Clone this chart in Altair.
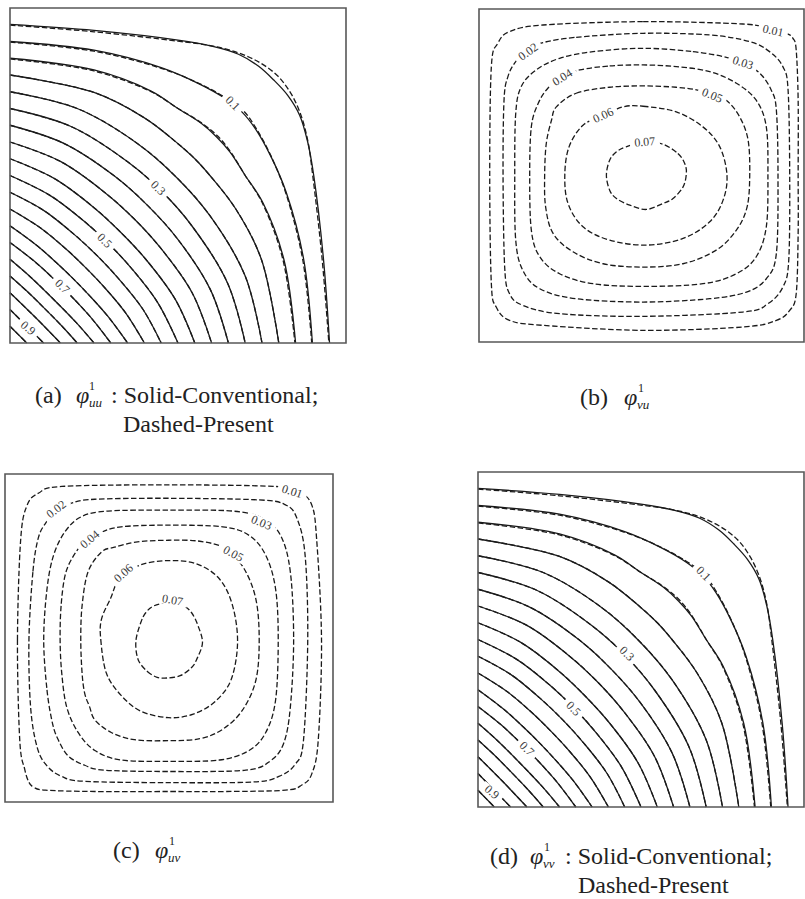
import altair as alt
import pandas as pd

SERIF = "Liberation Serif"
INK = "#1a1a1a"
FRAME = "#585858"
LABEL_INK = "#3a3a3a"

# ---------------------------------------------------------------------------
# Corner-type fields (phi_uu, phi_vv): value 1 at the lower-left corner, 0 on the
# top and right edges.  Each contour is symmetric about the diagonal, so only the
# half from the left edge to the diagonal is listed (normalised 0..1 coordinates).
# ---------------------------------------------------------------------------
corner_levels = [0.05, 0.10, 0.15, 0.20, 0.25, 0.30, 0.35, 0.40, 0.45, 0.50,
                 0.55, 0.60, 0.65, 0.70, 0.75, 0.80, 0.85, 0.90, 0.95]
corner_x = [
    [0, 0.25, 0.5, 0.6, 0.68, 0.74, 0.785],
    [0, 0.25, 0.45, 0.56, 0.64, 0.69],
    [0, 0.25, 0.42, 0.5, 0.57, 0.615],
    [0, 0.25, 0.4, 0.5, 0.55],
    [0, 0.2, 0.38, 0.495],
    [0, 0.18, 0.35, 0.452],
    [0, 0.16, 0.31, 0.41],
    [0, 0.15, 0.28, 0.37],
    [0, 0.13, 0.25, 0.33],
    [0, 0.12, 0.22, 0.295],
    [0, 0.10, 0.19, 0.26],
    [0, 0.09, 0.165, 0.225],
    [0, 0.08, 0.14, 0.19],
    [0, 0.07, 0.12, 0.161],
    [0, 0.06, 0.13],
    [0, 0.05, 0.103],
    [0, 0.076],
    [0, 0.05],
    [0, 0.025],
]
corner_y = [
    [0.951, 0.933, 0.904, 0.886, 0.862, 0.826, 0.785],
    [0.90, 0.874, 0.822, 0.775, 0.730, 0.69],
    [0.85, 0.815, 0.752, 0.70, 0.655, 0.615],
    [0.80, 0.748, 0.672, 0.595, 0.55],
    [0.75, 0.70, 0.595, 0.495],
    [0.70, 0.647, 0.541, 0.452],
    [0.65, 0.596, 0.499, 0.41],
    [0.60, 0.542, 0.451, 0.37],
    [0.55, 0.492, 0.404, 0.33],
    [0.50, 0.440, 0.364, 0.295],
    [0.45, 0.396, 0.325, 0.26],
    [0.40, 0.344, 0.282, 0.225],
    [0.35, 0.291, 0.238, 0.19],
    [0.30, 0.246, 0.201, 0.161],
    [0.25, 0.198, 0.13],
    [0.20, 0.155, 0.103],
    [0.15, 0.076],
    [0.10, 0.05],
    [0.05, 0.025],
]
# present method: the outer contours sit slightly further into the corner
present_overrides = {
    0.05: ([0, 0.25, 0.5, 0.6, 0.68, 0.745, 0.797],
           [0.949, 0.929, 0.901, 0.887, 0.866, 0.836, 0.797]),
    0.10: ([0, 0.25, 0.45, 0.56, 0.64, 0.694],
           [0.898, 0.871, 0.820, 0.776, 0.733, 0.694]),
    0.15: ([0, 0.25, 0.42, 0.5, 0.57, 0.618],
           [0.848, 0.812, 0.750, 0.700, 0.657, 0.618]),
}

uu_label_text = ["0.1", "0.3", "0.5", "0.7", "0.9"]
uu_label_x = [0.663, 0.441, 0.282, 0.156, 0.054]
uu_label_y = [0.716, 0.463, 0.306, 0.169, 0.045]
uu_label_angle = [45, 45, 45, 45, 40]

vv_label_text = ["0.1", "0.3", "0.5", "0.7", "0.9"]
vv_label_x = [0.692, 0.457, 0.293, 0.150, 0.043]
vv_label_y = [0.697, 0.458, 0.294, 0.174, 0.045]
vv_label_angle = [45, 45, 45, 45, 40]

# ---------------------------------------------------------------------------
# Cross fields (phi_vu, phi_uv): closed contours around the centre.
# ---------------------------------------------------------------------------
cross_levels = [0.01, 0.02, 0.03, 0.04, 0.05, 0.06, 0.07]
vu_x = [
    [0.197, 0.505, 0.812, 0.900, 0.946, 0.966, 0.976, 0.982, 0.982, 0.982, 0.976, 0.956,
     0.915, 0.812, 0.505, 0.197, 0.094, 0.053, 0.038, 0.033, 0.038, 0.058, 0.094],
    [0.197, 0.299, 0.505, 0.710, 0.833, 0.894, 0.935, 0.951, 0.956, 0.953, 0.935, 0.889,
     0.812, 0.505, 0.248, 0.135, 0.094, 0.079, 0.074, 0.077, 0.089, 0.113, 0.151],
    [0.505, 0.658, 0.761, 0.812, 0.864, 0.899, 0.915, 0.920, 0.915, 0.884, 0.823, 0.710,
     0.505, 0.299, 0.187, 0.135, 0.113, 0.110, 0.113, 0.130, 0.176, 0.248, 0.351],
    [0.310, 0.402, 0.505, 0.607, 0.710, 0.792, 0.853, 0.884, 0.889, 0.884, 0.853, 0.792,
     0.689, 0.505, 0.351, 0.248, 0.187, 0.161, 0.156, 0.161, 0.182, 0.212, 0.256],
    [0.238, 0.299, 0.402, 0.505, 0.607, 0.669, 0.715, 0.761, 0.802, 0.828, 0.833, 0.825,
     0.792, 0.730, 0.628, 0.505, 0.382, 0.289, 0.228, 0.205, 0.202, 0.207, 0.223],
    [0.443, 0.505, 0.607, 0.689, 0.741, 0.763, 0.751, 0.710, 0.628, 0.515, 0.402, 0.320,
     0.274, 0.264, 0.277, 0.320, 0.379],
    [0.566, 0.612, 0.633, 0.638, 0.628, 0.597, 0.566, 0.515, 0.464, 0.423, 0.402, 0.392,
     0.402, 0.423, 0.453, 0.510],
]
vu_y = [
    [0.952, 0.962, 0.955, 0.940, 0.927, 0.912, 0.877, 0.726, 0.501, 0.326, 0.145, 0.095,
     0.065, 0.045, 0.035, 0.050, 0.065, 0.105, 0.175, 0.501, 0.827, 0.897, 0.932],
    [0.899, 0.915, 0.927, 0.922, 0.902, 0.872, 0.827, 0.757, 0.501, 0.245, 0.165, 0.115,
     0.090, 0.077, 0.085, 0.110, 0.145, 0.225, 0.501, 0.726, 0.797, 0.842, 0.877],
    [0.882, 0.872, 0.855, 0.837, 0.807, 0.757, 0.696, 0.501, 0.266, 0.190, 0.150, 0.130,
     0.120, 0.130, 0.160, 0.215, 0.306, 0.501, 0.686, 0.767, 0.817, 0.852, 0.872],
    [0.817, 0.829, 0.832, 0.827, 0.812, 0.777, 0.726, 0.646, 0.501, 0.346, 0.256, 0.205,
     0.175, 0.167, 0.175, 0.205, 0.256, 0.336, 0.501, 0.646, 0.716, 0.762, 0.795],
    [0.706, 0.747, 0.765, 0.769, 0.765, 0.757, 0.742, 0.726, 0.676, 0.606, 0.501, 0.406,
     0.336, 0.276, 0.235, 0.225, 0.235, 0.271, 0.326, 0.406, 0.501, 0.596, 0.666],
    [0.706, 0.708, 0.691, 0.646, 0.586, 0.501, 0.426, 0.361, 0.311, 0.291, 0.306, 0.346,
     0.416, 0.501, 0.586, 0.651, 0.678],
    [0.594, 0.566, 0.536, 0.506, 0.466, 0.431, 0.416, 0.398, 0.411, 0.431, 0.456, 0.501,
     0.546, 0.571, 0.586, 0.601],
]
uv_x = [
    [0.048, 0.038, 0.045, 0.060, 0.073, 0.088, 0.123, 0.274, 0.499, 0.674, 0.855, 0.905,
     0.935, 0.955, 0.965, 0.950, 0.935, 0.895, 0.825, 0.499, 0.173, 0.103, 0.068],
    [0.101, 0.085, 0.073, 0.078, 0.098, 0.128, 0.173, 0.243, 0.499, 0.755, 0.835, 0.885,
     0.910, 0.923, 0.915, 0.890, 0.855, 0.775, 0.499, 0.274, 0.203, 0.158, 0.123],
    [0.118, 0.128, 0.145, 0.163, 0.193, 0.243, 0.304, 0.499, 0.734, 0.810, 0.850, 0.870,
     0.880, 0.870, 0.840, 0.785, 0.694, 0.499, 0.314, 0.233, 0.183, 0.148, 0.128],
    [0.183, 0.171, 0.168, 0.173, 0.188, 0.223, 0.274, 0.354, 0.499, 0.654, 0.744, 0.795,
     0.825, 0.833, 0.825, 0.795, 0.744, 0.664, 0.499, 0.354, 0.284, 0.238, 0.205],
    [0.294, 0.253, 0.235, 0.231, 0.235, 0.243, 0.258, 0.274, 0.324, 0.394, 0.499, 0.594,
     0.664, 0.724, 0.765, 0.775, 0.765, 0.729, 0.674, 0.594, 0.499, 0.404, 0.334],
    [0.294, 0.292, 0.309, 0.354, 0.414, 0.499, 0.574, 0.639, 0.689, 0.709, 0.694, 0.654,
     0.584, 0.499, 0.414, 0.349, 0.322],
    [0.406, 0.434, 0.464, 0.494, 0.534, 0.569, 0.584, 0.602, 0.589, 0.569, 0.544, 0.499,
     0.454, 0.429, 0.414, 0.399],
]
uv_y = [
    [0.803, 0.495, 0.188, 0.100, 0.060, 0.045, 0.036, 0.032, 0.032, 0.032, 0.036, 0.052,
     0.085, 0.188, 0.495, 0.803, 0.906, 0.947, 0.962, 0.967, 0.962, 0.942, 0.906],
    [0.803, 0.701, 0.495, 0.290, 0.167, 0.110, 0.078, 0.063, 0.059, 0.061, 0.078, 0.115,
     0.188, 0.495, 0.752, 0.865, 0.906, 0.921, 0.926, 0.923, 0.911, 0.887, 0.849],
    [0.495, 0.342, 0.239, 0.188, 0.140, 0.112, 0.097, 0.093, 0.097, 0.126, 0.180, 0.290,
     0.495, 0.701, 0.813, 0.865, 0.887, 0.890, 0.887, 0.870, 0.824, 0.752, 0.649],
    [0.690, 0.598, 0.495, 0.393, 0.290, 0.212, 0.157, 0.128, 0.124, 0.128, 0.157, 0.212,
     0.311, 0.495, 0.649, 0.752, 0.813, 0.839, 0.844, 0.839, 0.818, 0.788, 0.744],
    [0.762, 0.701, 0.598, 0.495, 0.393, 0.331, 0.290, 0.250, 0.212, 0.190, 0.187, 0.193,
     0.222, 0.280, 0.372, 0.495, 0.618, 0.711, 0.772, 0.795, 0.798, 0.793, 0.777],
    [0.557, 0.495, 0.393, 0.325, 0.277, 0.257, 0.268, 0.305, 0.372, 0.485, 0.598, 0.680,
     0.726, 0.736, 0.723, 0.680, 0.621],
    [0.434, 0.398, 0.380, 0.378, 0.385, 0.410, 0.434, 0.485, 0.536, 0.577, 0.598, 0.608,
     0.598, 0.577, 0.547, 0.490],
]

vu_label_text = ["0.01", "0.02", "0.03", "0.04", "0.05", "0.06", "0.07"]
vu_label_x = [0.905, 0.151, 0.812, 0.256, 0.718, 0.382, 0.510]
vu_label_y = [0.935, 0.872, 0.839, 0.795, 0.741, 0.681, 0.601]
vu_label_angle = [12, -35, 18, -32, 22, -25, -5]

uv_label_text = ["0.01", "0.02", "0.03", "0.04", "0.05", "0.06", "0.07"]
uv_label_x = [0.876, 0.156, 0.782, 0.258, 0.696, 0.361, 0.511]
uv_label_y = [0.947, 0.893, 0.852, 0.801, 0.757, 0.698, 0.616]
uv_label_angle = [18, -38, 22, -40, 28, -42, 10]

# ---------------------------------------------------------------------------
# Layout: pixel box of each panel's square frame (x range, y range)
# ---------------------------------------------------------------------------
BOX_A = ([10, 346], [343, 8])
BOX_B = ([479, 804], [342, 9])
BOX_C = ([5, 333], [802, 474])
BOX_D = ([478, 804], [807, 472])


def scales(box):
    return (alt.Scale(domain=[0, 1], range=box[0], nice=False, zero=False),
            alt.Scale(domain=[0, 1], range=box[1], nice=False, zero=False))


def corner_table(levels, xs_list, ys_list):
    rows = []
    for lev, hx, hy in zip(levels, xs_list, ys_list):
        half = list(zip(hx, hy))
        path = half + [(b, a) for a, b in reversed(half[:-1])]
        for k, (px, py) in enumerate(path):
            rows.append({"level": lev, "order": k, "x": px, "y": py})
    return pd.DataFrame(rows)


def closed_table(levels, xs_list, ys_list):
    rows = []
    for lev, cx, cy in zip(levels, xs_list, ys_list):
        for k, (px, py) in enumerate(zip(cx, cy)):
            rows.append({"level": lev, "order": k, "x": px, "y": py})
    return pd.DataFrame(rows)


def label_table(text, xs, ys, angles):
    return pd.DataFrame({"label": text, "x": xs, "y": ys, "angle": angles})


frame_df = pd.DataFrame({"x0": [0], "x1": [1], "y0": [0], "y1": [1]})
one_row = pd.DataFrame({"k": [0]})


def lines(df, box, interp, dash=None, width=1.3):
    xs, ys = scales(box)
    kw = dict(interpolate=interp, color=INK, strokeWidth=width)
    if dash:
        kw["strokeDash"] = dash
    return alt.Chart(df).mark_line(**kw).encode(
        x=alt.X("x:Q", scale=xs, axis=None),
        y=alt.Y("y:Q", scale=ys, axis=None),
        detail="level:N",
        order="order:Q",
    )


def labels(df, box, patch):
    xs, ys = scales(box)
    enc = dict(
        x=alt.X("x:Q", scale=xs, axis=None),
        y=alt.Y("y:Q", scale=ys, axis=None),
        angle=alt.Angle("angle:Q", scale=None),
    )
    gap = alt.Chart(df).mark_point(
        shape="M-1,-0.36L1,-0.36L1,0.36L-1,0.36Z", filled=True, color="white",
        opacity=1, size=patch * patch, strokeWidth=0,
    ).encode(**enc)
    txt = alt.Chart(df).mark_text(
        font=SERIF, fontSize=12, color=LABEL_INK, align="center", baseline="middle",
    ).encode(text="label:N", **enc)
    return [gap, txt]


def frame(box):
    xs, ys = scales(box)
    return alt.Chart(frame_df).mark_rect(
        fillOpacity=0, stroke=FRAME, strokeWidth=1.6,
    ).encode(
        x=alt.X("x0:Q", scale=xs, axis=None), x2="x1:Q",
        y=alt.Y("y0:Q", scale=ys, axis=None), y2="y1:Q",
    )


def caption(text, px, py, size=24, style="normal"):
    return alt.Chart(one_row).mark_text(
        text=text, font=SERIF, fontSize=size, fontStyle=style, color="#222222",
        align="left", baseline="alphabetic",
    ).encode(x=alt.value(px), y=alt.value(py))


def symbol(label, sub, px, py, phi_x, one_dx, sub_dx, colon=None, second=None):
    parts = [
        caption(label, px, py),
        caption("φ", phi_x, py, style="italic"),
        caption("1", phi_x + one_dx, py - 13, size=12),
        caption(sub, phi_x + sub_dx, py + 4, size=13, style="italic"),
    ]
    if colon is not None:
        parts.append(caption(": Solid-Conventional;", colon, py))
    if second is not None:
        parts.append(caption("Dashed-Present", second[0], second[1]))
    return parts


# conventional (solid) and present (dashed) contour tables for the corner fields
conv_df = corner_table(corner_levels, corner_x, corner_y)
pres_x = [present_overrides.get(l, (hx, hy))[0] for l, hx, hy in zip(corner_levels, corner_x, corner_y)]
pres_y = [present_overrides.get(l, (hx, hy))[1] for l, hx, hy in zip(corner_levels, corner_x, corner_y)]
pres_df = corner_table(corner_levels, pres_x, pres_y)

vu_df = closed_table(cross_levels, vu_x, vu_y)
uv_df = closed_table(cross_levels, uv_x, uv_y)

DASH = [5.5, 2.5]

layers = []
# (a) phi_uu
layers += [lines(conv_df, BOX_A, "catmull-rom"), lines(pres_df, BOX_A, "catmull-rom", DASH)]
layers += labels(label_table(uu_label_text, uu_label_x, uu_label_y, uu_label_angle), BOX_A, 24)
layers.append(frame(BOX_A))
# (b) phi_vu
layers.append(lines(vu_df, BOX_B, "cardinal-closed", DASH))
layers += labels(label_table(vu_label_text, vu_label_x, vu_label_y, vu_label_angle), BOX_B, 30)
layers.append(frame(BOX_B))
# (c) phi_uv
layers.append(lines(uv_df, BOX_C, "cardinal-closed", DASH))
layers += labels(label_table(uv_label_text, uv_label_x, uv_label_y, uv_label_angle), BOX_C, 30)
layers.append(frame(BOX_C))
# (d) phi_vv
layers += [lines(conv_df, BOX_D, "catmull-rom"), lines(pres_df, BOX_D, "catmull-rom", DASH)]
layers += labels(label_table(vv_label_text, vv_label_x, vv_label_y, vv_label_angle), BOX_D, 24)
layers.append(frame(BOX_D))

# captions
layers += symbol("(a)", "uu", 35, 403, 76, 13, 13, colon=111, second=(123, 432))
layers += symbol("(b)", "vu", 580, 405, 624, 14, 13)
layers += symbol("(c)", "uv", 113, 858, 155, 14, 13)
layers += symbol("(d)", "vv", 490, 864, 530, 14, 13, colon=565, second=(578, 893))

chart = (
    alt.layer(*layers)
    .resolve_scale(x="independent", y="independent")
    .properties(width=805, height=899, padding=0,
                autosize=alt.AutoSizeParams(type="none"), background="white")
    .configure_view(strokeWidth=0)
)

chart.save("out.html", embed_options={"renderer": "svg", "actions": False})
